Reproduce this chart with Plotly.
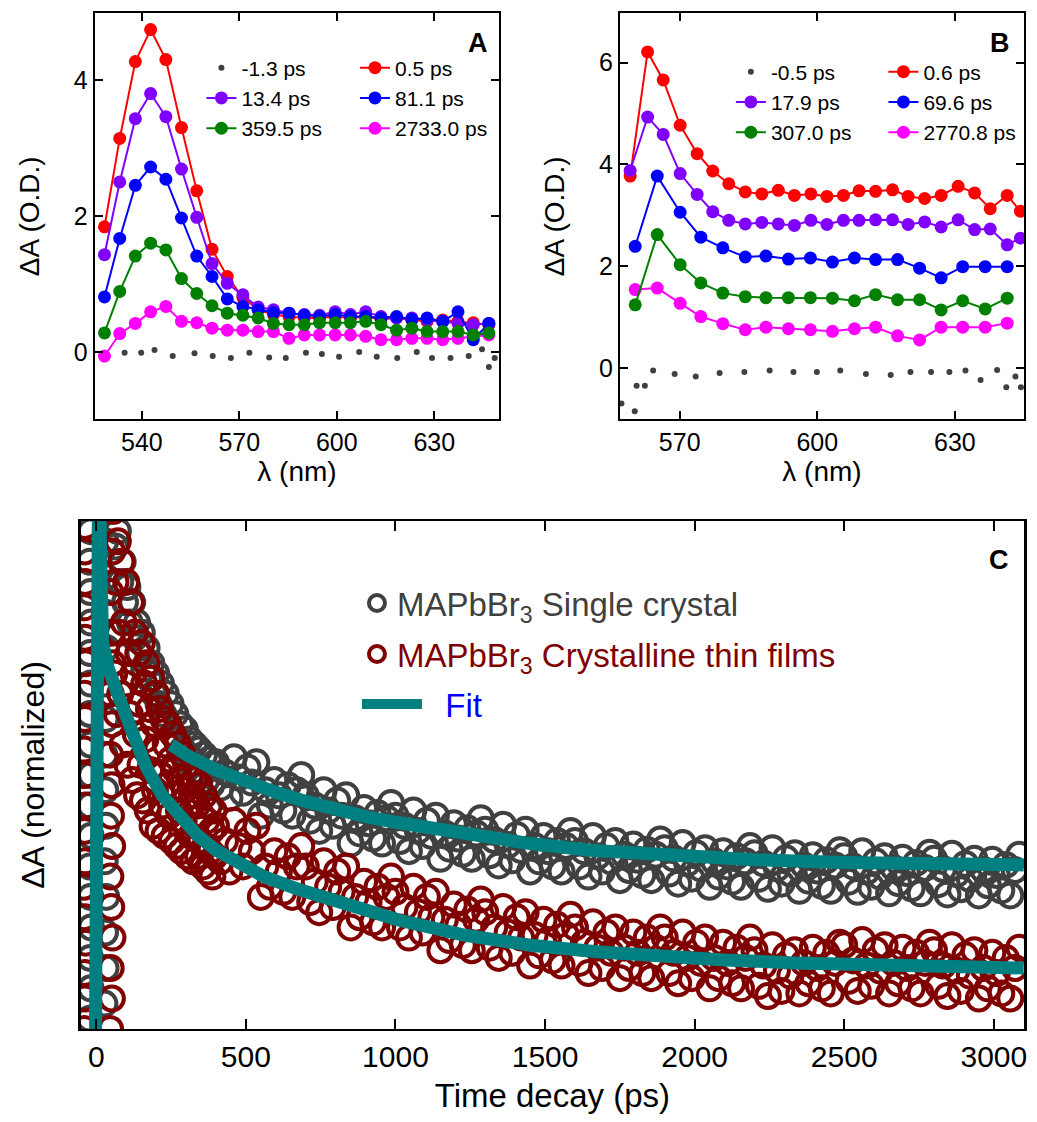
import plotly.graph_objects as go

W, H = 1037, 1122
FONT = "Liberation Sans, Arial, sans-serif"

# ---------------- Panel A: spectra at selected delays ----------------
wl_a = [528.5, 533.2, 538.0, 542.7, 547.4, 552.2, 556.9, 561.6, 566.3, 571.1,
        575.8, 580.5, 585.3, 590.0, 594.7, 599.5, 604.2, 608.9, 613.6, 618.4,
        623.1, 627.8, 632.6, 637.3, 642.0, 646.8]
a_0p5 = [1.84, 3.14, 4.27, 4.74, 4.30, 3.30, 2.37, 1.51, 1.11, 0.80,
         0.62, 0.55, 0.52, 0.50, 0.50, 0.52, 0.50, 0.52, 0.48, 0.50,
         0.47, 0.45, 0.47, 0.45, 0.43, 0.40]
a_13p4 = [1.43, 2.50, 3.43, 3.80, 3.46, 2.69, 1.98, 1.30, 1.01, 0.84,
          0.66, 0.62, 0.57, 0.55, 0.54, 0.59, 0.55, 0.59, 0.52, 0.50,
          0.50, 0.47, 0.45, 0.42, 0.40, 0.42]
a_81p1 = [0.81, 1.67, 2.45, 2.72, 2.54, 1.97, 1.41, 1.11, 0.78, 0.67,
          0.62, 0.58, 0.57, 0.54, 0.52, 0.55, 0.52, 0.52, 0.50, 0.52,
          0.48, 0.50, 0.45, 0.59, 0.18, 0.42]
a_359p5 = [0.28, 0.89, 1.41, 1.60, 1.50, 1.08, 0.86, 0.68, 0.57, 0.54,
           0.50, 0.42, 0.40, 0.40, 0.43, 0.43, 0.43, 0.45, 0.40, 0.32,
           0.35, 0.30, 0.30, 0.30, 0.25, 0.28]
a_2733 = [-0.06, 0.27, 0.42, 0.59, 0.67, 0.45, 0.43, 0.35, 0.32, 0.32,
          0.30, 0.30, 0.20, 0.25, 0.25, 0.25, 0.25, 0.23, 0.18, 0.18,
          0.20, 0.20, 0.18, 0.20, 0.22, 0.25]
wl_a_neg = [534.7, 539.8, 543.9, 549.5, 556.2, 561.8, 567.4, 573.1, 579.2, 584.3,
            590.5, 595.4, 600.7, 606.9, 612.3, 618.6, 624.6, 629.3, 635.0, 640.6,
            644.7, 646.8, 648.6]
a_neg1p3 = [-0.01, -0.01, 0.03, -0.06, -0.02, -0.06, -0.09, -0.01, -0.08, -0.09,
            -0.01, -0.03, -0.07, 0.00, -0.07, -0.09, 0.00, -0.09, -0.09, -0.06,
            0.04, -0.22, -0.09]

# ---------------- Panel B: spectra at selected delays ----------------
wl_b_fine = [559.2, 563.0, 566.4, 570.1, 573.8, 577.2, 580.7, 584.3, 587.9, 591.5,
             595.0, 598.6, 602.1, 605.7, 609.1, 612.7, 616.4, 619.8, 623.4, 627.0,
             630.7, 634.3, 637.7, 641.4, 644.3]
b_0p6 = [3.77, 6.21, 5.66, 4.77, 4.21, 3.87, 3.62, 3.46, 3.42, 3.49,
         3.39, 3.42, 3.37, 3.39, 3.48, 3.47, 3.50, 3.37, 3.33, 3.39,
         3.57, 3.44, 3.13, 3.39, 3.08]
b_17p9 = [3.88, 4.93, 4.59, 3.82, 3.41, 3.07, 2.90, 2.83, 2.86, 2.83,
          2.80, 2.90, 2.82, 2.90, 2.90, 2.91, 2.91, 2.82, 2.87, 2.77,
          2.91, 2.72, 2.73, 2.42, 2.55]
wl_b_coarse = [560.3, 565.1, 570.1, 574.6, 579.4, 584.3, 588.8, 593.7, 598.5, 603.3,
               608.1, 612.7, 617.5, 622.3, 627.0, 631.7, 636.6, 641.4]
b_69p6 = [2.39, 3.77, 3.06, 2.57, 2.36, 2.18, 2.20, 2.14, 2.16, 2.08,
          2.16, 2.13, 2.13, 1.96, 1.77, 1.99, 1.99, 1.99]
b_307 = [1.24, 2.62, 2.03, 1.67, 1.47, 1.40, 1.38, 1.38, 1.38, 1.37,
         1.32, 1.44, 1.34, 1.34, 1.14, 1.32, 1.16, 1.37]
b_2770 = [1.54, 1.57, 1.27, 1.01, 0.87, 0.75, 0.80, 0.77, 0.75, 0.72,
          0.77, 0.80, 0.63, 0.55, 0.80, 0.80, 0.80, 0.88]
wl_b_neg = [557.3, 560.2, 560.6, 562.4, 564.2, 568.9, 573.5, 578.7, 584.1, 589.6,
            594.8, 599.9, 605.0, 610.6, 616.0, 620.3, 624.8, 628.8, 632.3, 635.6,
            639.2, 641.2, 643.2, 644.4]
b_neg0p5 = [-0.70, -0.85, -0.35, -0.35, -0.05, -0.12, -0.17, -0.10, -0.08, -0.05,
            -0.08, -0.08, -0.05, -0.12, -0.14, -0.08, -0.08, -0.08, -0.05, -0.24,
            -0.04, -0.38, -0.17, -0.38]

# ---------------- Panel C: normalized kinetics ----------------
# sampling grids (ps)
early_t_fine = list(range(56, 397, 4))
early_t_coarse = list(range(56, 393, 8))
late_t = list(range(400, 3086, 15))

# single crystal
sc_rise_t = [-22, -19, -21, -18, -20, -23, -19, -21, -18, -20, -22, -19, -21, -18, -20, -22, -19, -21,
             27, 31, 29, 33, 28, 32, 30, 27, 31, 29, 33, 28, 32, 30]
sc_rise_v = [0.02, 0.08, 0.14, 0.20, 0.26, 0.32, 0.38, 0.44, 0.50, 0.56, 0.62, 0.68, 0.74, 0.80, 0.86, 0.92, 0.98, 1.04,
             0.05, 0.12, 0.19, 0.26, 0.33, 0.40, 0.47, 0.54, 0.61, 0.68, 0.75, 0.82, 0.89, 0.96]
sc_early_v = [1.02, 0.95, 0.98, 0.88, 0.92, 0.84, 0.87, 0.80, 0.84, 0.77, 0.80, 0.74, 0.78, 0.71,
              0.75, 0.69, 0.72, 0.66, 0.70, 0.64, 0.68, 0.62, 0.66, 0.60, 0.64, 0.58, 0.62, 0.57,
              0.60, 0.55, 0.59, 0.54, 0.57, 0.52, 0.56, 0.51, 0.55, 0.50, 0.54, 0.49, 0.53, 0.48, 0.52]
sc_late_v = [
    0.525, 0.475, 0.505, 0.455, 0.535, 0.495, 0.465, 0.515, 0.485, 0.525,
    0.42, 0.47, 0.44, 0.49, 0.46, 0.43, 0.48, 0.42, 0.47, 0.50,
    0.46, 0.41, 0.44, 0.39, 0.47, 0.43, 0.40, 0.45, 0.42, 0.46,
    0.365, 0.415, 0.385, 0.435, 0.405, 0.375, 0.425, 0.365, 0.415, 0.445,
    0.42, 0.37, 0.40, 0.35, 0.43, 0.39, 0.36, 0.41, 0.38, 0.42,
    0.335, 0.385, 0.355, 0.405, 0.375, 0.345, 0.395, 0.335, 0.385, 0.415,
    0.392, 0.342, 0.372, 0.322, 0.402, 0.362, 0.332, 0.382, 0.352, 0.392,
    0.31, 0.36, 0.33, 0.38, 0.35, 0.32, 0.37, 0.31, 0.36, 0.39,
    0.37, 0.32, 0.35, 0.30, 0.38, 0.34, 0.31, 0.36, 0.33, 0.37,
    0.293, 0.343, 0.313, 0.363, 0.333, 0.303, 0.353, 0.293, 0.343, 0.373,
    0.356, 0.306, 0.336, 0.286, 0.366, 0.326, 0.296, 0.346, 0.316, 0.356,
    0.28, 0.33, 0.30, 0.35, 0.32, 0.29, 0.34, 0.28, 0.33, 0.36,
    0.346, 0.296, 0.326, 0.276, 0.356, 0.316, 0.286, 0.336, 0.306, 0.346,
    0.272, 0.322, 0.292, 0.342, 0.312, 0.282, 0.332, 0.272, 0.322, 0.352,
    0.34, 0.29, 0.32, 0.27, 0.35, 0.31, 0.28, 0.33, 0.30, 0.34,
    0.267, 0.317, 0.287, 0.337, 0.307, 0.277, 0.327, 0.267, 0.317, 0.347,
    0.335, 0.285, 0.315, 0.265, 0.345, 0.305, 0.275, 0.325, 0.295, 0.335,
    0.263, 0.313, 0.283, 0.333, 0.303, 0.273, 0.323, 0.263, 0.313, 0.343,
]

# crystalline thin films
tf_rise_t = [-40, -37, -39, -36, -38, -41, -37, -39, -36, -38, -40, -37, -39, -36, -38, -40, -37, -39, -38, -36,
             46, 52, 48, 54, 50, 47, 53, 49, 51, 46, 52, 48, 54, 50, 47, 53]
tf_rise_v = [0.00, 0.06, 0.11, 0.17, 0.22, 0.28, 0.33, 0.39, 0.44, 0.50, 0.55, 0.61, 0.66, 0.72, 0.77, 0.83, 0.88, 0.94, 0.99, 1.05,
             0.00, 0.06, 0.12, 0.18, 0.24, 0.30, 0.36, 0.42, 0.48, 0.54, 0.60, 0.66, 0.72, 0.78, 0.86, 0.94]
tf_early_v = [
    1.02, 0.70, 0.88, 0.62, 0.96, 0.78, 0.66, 0.92, 0.56, 0.80,
    0.68, 0.88, 0.52, 0.74, 0.62, 0.84, 0.49, 0.70, 0.78, 0.58,
    0.46, 0.74, 0.64, 0.52, 0.76, 0.45, 0.68, 0.57, 0.72, 0.43,
    0.63, 0.51, 0.69, 0.40, 0.60, 0.47, 0.66, 0.55, 0.39, 0.63,
    0.50, 0.44, 0.61, 0.38, 0.56, 0.48, 0.60, 0.42, 0.53, 0.37,
    0.58, 0.46, 0.51, 0.36, 0.56, 0.43, 0.49, 0.35, 0.54, 0.41,
    0.47, 0.52, 0.34, 0.44, 0.50, 0.38, 0.46, 0.33, 0.49, 0.40,
    0.44, 0.34, 0.48, 0.37, 0.42, 0.32, 0.46, 0.36, 0.41, 0.31,
    0.44, 0.35, 0.39, 0.30, 0.43, 0.34,
]
tf_late_v = [
    0.40, 0.33, 0.37, 0.31, 0.41, 0.36, 0.32, 0.39, 0.35, 0.40,
    0.26, 0.32, 0.28, 0.35, 0.31, 0.27, 0.34, 0.26, 0.32, 0.36,
    0.32, 0.25, 0.29, 0.23, 0.33, 0.28, 0.24, 0.31, 0.27, 0.32,
    0.20, 0.26, 0.22, 0.29, 0.25, 0.21, 0.28, 0.20, 0.26, 0.30,
    0.27, 0.20, 0.24, 0.18, 0.28, 0.23, 0.19, 0.26, 0.22, 0.27,
    0.155, 0.215, 0.175, 0.245, 0.205, 0.165, 0.235, 0.155, 0.215, 0.255,
    0.23, 0.16, 0.20, 0.14, 0.24, 0.19, 0.15, 0.22, 0.18, 0.23,
    0.125, 0.185, 0.145, 0.215, 0.175, 0.135, 0.205, 0.125, 0.185, 0.225,
    0.20, 0.13, 0.17, 0.11, 0.21, 0.16, 0.12, 0.19, 0.15, 0.20,
    0.10, 0.16, 0.12, 0.19, 0.15, 0.11, 0.18, 0.10, 0.16, 0.20,
    0.18, 0.11, 0.15, 0.09, 0.19, 0.14, 0.10, 0.17, 0.13, 0.18,
    0.08, 0.14, 0.10, 0.17, 0.13, 0.09, 0.16, 0.08, 0.14, 0.18,
    0.155, 0.085, 0.125, 0.065, 0.165, 0.115, 0.075, 0.145, 0.105, 0.155,
    0.07, 0.13, 0.09, 0.16, 0.12, 0.08, 0.15, 0.07, 0.13, 0.17,
    0.165, 0.095, 0.135, 0.075, 0.175, 0.125, 0.085, 0.155, 0.115, 0.165,
    0.07, 0.13, 0.09, 0.16, 0.12, 0.08, 0.15, 0.07, 0.13, 0.17,
    0.155, 0.085, 0.125, 0.065, 0.165, 0.115, 0.075, 0.145, 0.105, 0.155,
    0.06, 0.12, 0.08, 0.15, 0.11, 0.07, 0.14, 0.06, 0.12, 0.16,
]

# fitted curves
fit_sc_t = [250, 300, 400, 500, 600, 700, 800, 900, 1000, 1150, 1300, 1450, 1650, 1900, 2200, 2500, 2800, 3100]
fit_sc_v = [0.560, 0.540, 0.510, 0.487, 0.466, 0.448, 0.432, 0.418, 0.407, 0.393, 0.378, 0.365,
            0.352, 0.341, 0.333, 0.328, 0.325, 0.323]
fit_tf_t = [-3, 3, 8, 14, 21, 40, 60, 88, 120, 167, 220, 278, 340, 400, 480, 564, 680, 786, 900,
            1007, 1229, 1451, 1672, 1894, 2100, 2337, 2560, 2781, 3100]
fit_tf_v = [-0.05, 1.15, 1.15, 0.95, 0.76, 0.71, 0.67, 0.634, 0.585, 0.516, 0.46, 0.417, 0.38,
            0.352, 0.323, 0.299, 0.274, 0.254, 0.234, 0.215, 0.185, 0.165, 0.152, 0.142, 0.136,
            0.130, 0.126, 0.122, 0.120]

sc_t = sc_rise_t + early_t_coarse + late_t
sc_v = sc_rise_v + sc_early_v + sc_late_v
tf_t = tf_rise_t + early_t_fine + late_t
tf_v = tf_rise_v + tf_early_v + tf_late_v


def px_x(px):
    return px / W


def px_y(px):
    return 1 - px / H


fig = go.Figure()


def add_spectra(xa, ya, wl_neg, neg, neg_name, neg_legend, series):
    fig.add_trace(go.Scatter(x=wl_neg, y=neg, mode="markers", name=neg_name,
                             marker=dict(size=6, color="#404040"), legendrank=1,
                             xaxis=xa, yaxis=ya, legend=neg_legend))
    for wl, vals, name, color, lg, rank in series:
        fig.add_trace(go.Scatter(x=wl, y=vals, name=name, mode="lines+markers",
                                 line=dict(width=2, color=color),
                                 marker=dict(size=13, color=color), legendrank=rank,
                                 xaxis=xa, yaxis=ya, legend=lg))


add_spectra("x", "y", wl_a_neg, a_neg1p3, "-1.3 ps", "legend", [
    (wl_a, a_2733, "2733.0 ps", "#ff00ff", "legend2", 3),
    (wl_a, a_0p5, "0.5 ps", "#ff0000", "legend2", 1),
    (wl_a, a_13p4, "13.4 ps", "#8000ff", "legend", 2),
    (wl_a, a_81p1, "81.1 ps", "#0000ff", "legend2", 2),
    (wl_a, a_359p5, "359.5 ps", "#008000", "legend", 3),
])
add_spectra("x2", "y2", wl_b_neg, b_neg0p5, "-0.5 ps", "legend3", [
    (wl_b_coarse, b_2770, "2770.8 ps", "#ff00ff", "legend4", 3),
    (wl_b_fine, b_0p6, "0.6 ps", "#ff0000", "legend4", 1),
    (wl_b_fine, b_17p9, "17.9 ps", "#8000ff", "legend3", 2),
    (wl_b_coarse, b_69p6, "69.6 ps", "#0000ff", "legend4", 2),
    (wl_b_coarse, b_307, "307.0 ps", "#008000", "legend3", 3),
])

# kinetics
fig.add_trace(go.Scatter(x=sc_t, y=sc_v, mode="markers", name="MAPbBr<sub>3</sub> Single crystal",
                         marker=dict(symbol="circle-open", size=24, color="#404040", line=dict(width=4)),
                         xaxis="x3", yaxis="y3", legend="legend5"))
fig.add_trace(go.Scatter(x=tf_t, y=tf_v, mode="markers", name="MAPbBr<sub>3</sub> Crystalline thin films",
                         marker=dict(symbol="circle-open", size=24, color="#800000", line=dict(width=4)),
                         xaxis="x3", yaxis="y3", legend="legend6"))
fig.add_trace(go.Scatter(x=fit_tf_t, y=fit_tf_v, mode="lines", name="\u00a0\u00a0Fit",
                         line=dict(width=13, color="#008080"),
                         xaxis="x3", yaxis="y3", legend="legend7"))
fig.add_trace(go.Scatter(x=fit_sc_t, y=fit_sc_v, mode="lines", name="Fit", showlegend=False,
                         line=dict(width=13, color="#008080"),
                         xaxis="x3", yaxis="y3"))

axis_common = dict(showline=True, linewidth=2, linecolor="black", mirror="ticks",
                   ticks="inside", ticklen=8, tickwidth=2, tickcolor="black",
                   showgrid=False, zeroline=False, tickfont=dict(size=25, color="black"))

ya_top, ya_bot = 13.3, 419.3
fig.update_layout(
    width=W, height=H, margin=dict(l=0, r=0, t=0, b=0),
    paper_bgcolor="white", plot_bgcolor="white",
    font=dict(family=FONT, color="black"),
    xaxis=dict(axis_common, domain=[px_x(95), px_x(500.7)], range=[525.5, 650.0],
               tickvals=[540, 570, 600, 630], anchor="y",
               title=dict(text="λ (nm)", font=dict(size=28), standoff=6)),
    yaxis=dict(axis_common, domain=[px_y(ya_bot), px_y(ya_top)], range=[-0.99, 4.98],
               tickvals=[0, 2, 4], anchor="x",
               title=dict(text="ΔA (O.D.)", font=dict(size=28), standoff=26)),
    xaxis2=dict(axis_common, domain=[px_x(621.7), px_x(1027)], range=[556.96, 645.07],
                tickvals=[570, 600, 630], anchor="y2",
                title=dict(text="λ (nm)", font=dict(size=28), standoff=6)),
    yaxis2=dict(axis_common, domain=[px_y(ya_bot), px_y(ya_top)], range=[-1.01, 6.97],
                tickvals=[0, 2, 4, 6], anchor="x2",
                title=dict(text="ΔA (O.D.)", font=dict(size=28), standoff=26)),
    xaxis3=dict(axis_common, domain=[px_x(81), px_x(1027)], range=[-52, 3101],
                tickvals=[0, 500, 1000, 1500, 2000, 2500, 3000], ticklen=10,
                tickfont=dict(size=30, color="black"), anchor="y3",
                title=dict(text="Time decay (ps)", font=dict(size=33), standoff=12)),
    yaxis3=dict(showline=True, linewidth=2.5, linecolor="black", mirror=True, ticks="",
                showticklabels=False, showgrid=False, zeroline=False,
                domain=[px_y(1029), px_y(521)], range=[0, 1], anchor="x3",
                title=dict(text="ΔA (normalized)", font=dict(size=32), standoff=24)),
)

leg = dict(bgcolor="rgba(0,0,0,0)", borderwidth=0, xanchor="left", yanchor="middle",
           tracegroupgap=0, traceorder="normal", font=dict(size=21, color="black"))
fig.update_layout(
    legend=dict(leg, x=px_x(202), y=px_y(98)),
    legend2=dict(leg, x=px_x(356), y=px_y(98)),
    legend3=dict(leg, x=px_x(733), y=px_y(102)),
    legend4=dict(leg, x=px_x(886), y=px_y(102)),
    legend5=dict(leg, x=px_x(358), y=px_y(603), font=dict(size=33, color="#404040")),
    legend6=dict(leg, x=px_x(358), y=px_y(654), font=dict(size=33, color="#800000")),
    legend7=dict(leg, x=px_x(358), y=px_y(704), itemwidth=60, font=dict(size=33, color="#0000ff")),
)

for txt, x, y in [("A", 479, 43), ("B", 1003, 43), ("C", 1002, 560)]:
    fig.add_annotation(text=f"<b>{txt}</b>", x=px_x(x), y=px_y(y), xref="paper", yref="paper",
                       showarrow=False, font=dict(size=27, color="black"),
                       xanchor="center", yanchor="middle")

fig.write_html("out.html")
